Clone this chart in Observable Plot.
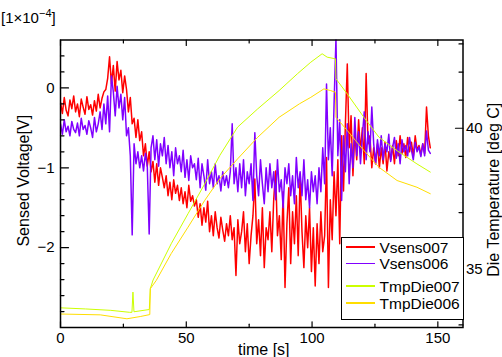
<!DOCTYPE html>
<html><head><meta charset="utf-8">
<script src="https://cdn.jsdelivr.net/npm/d3@7"></script>
<script src="https://cdn.jsdelivr.net/npm/@observablehq/plot@0.6"></script>
<style>
html,body{margin:0;padding:0;background:#fff;}
#wrap{position:relative;width:502px;height:357px;font-family:"Liberation Sans",Arial,sans-serif;color:#000;}
#scale{position:absolute;left:1px;top:10px;font-size:15px;line-height:16px;white-space:nowrap;}
#scale .sup{position:relative;top:-6px;font-size:11px;}
#legend{position:absolute;left:341px;top:237px;width:123px;height:83px;border:1.5px solid #000;background:#fff;box-sizing:border-box;}
.lline{position:absolute;left:3.5px;width:29px;height:1.5px;}
.ltext{position:absolute;left:37.5px;font-size:15.5px;line-height:18px;white-space:nowrap;}
</style></head><body><div id="wrap"></div>
<script>
// ---------- data ----------
const vsensTimeStep = 0.75; // seconds between samples
// Vsens007 [x1e-4 V]
const vsens007 = [
 -0.18,-0.32,-0.12,-0.28,-0.35,-0.15,-0.26,-0.10,
 -0.30,-0.20,-0.36,-0.14,-0.24,-0.33,-0.11,-0.27,
 -0.21,-0.34,-0.16,-0.29,-0.08,-0.25,-0.13,-0.05,
 -0.02,0.12,0.39,0.05,0.28,-0.04,0.33,0.10,
 0.22,-0.06,0.15,-0.02,-0.30,-0.12,-0.45,-0.38,
 -0.62,-0.40,-0.66,-0.55,-0.85,-0.70,-0.98,-0.80,
 -1.05,-0.92,-1.18,-0.95,-1.22,-1.00,-1.12,-1.25,
 -1.10,-1.35,-1.18,-1.40,-1.15,-1.32,-1.22,-1.41,
 -1.25,-1.45,-1.30,-1.50,-1.22,-1.42,-1.35,-1.48,
 -1.40,-1.62,-1.45,-1.72,-1.50,-1.68,-1.42,-1.80,
 -1.60,-1.85,-1.55,-1.75,-1.88,-1.62,-1.78,-1.92,
 -1.70,-1.85,-1.60,-1.90,-1.75,-2.35,-1.65,-1.95,
 -1.80,-1.55,-2.05,-1.70,-2.20,-1.85,-1.60,-1.14,
 -1.95,-1.65,-2.10,-1.50,-2.25,-1.75,-1.90,-1.55,
 -2.05,-1.40,-1.04,-1.85,-1.60,-2.15,-1.30,-2.50,
 -1.70,-1.25,-2.20,-1.55,-1.95,-1.35,-2.10,-1.08,
 -1.80,-2.25,-1.60,-2.00,-1.50,-2.30,-1.75,-2.48,
 -1.70,-2.20,-1.55,-2.05,-1.85,-0.87,-2.50,-1.40,
 -1.90,-1.05,-1.60,-0.90,-1.95,-0.60,-1.29,-0.45,
 0.30,-0.75,-0.35,-1.10,-0.55,-0.90,-0.40,-0.80,
 -0.50,-0.95,0.18,-0.70,-0.60,-1.00,-0.75,-0.95,
 -0.70,-1.00,-0.75,-0.95,-0.68,-1.04,-0.80,-0.90,
 -0.72,-0.95,-0.66,-0.85,-0.60,-0.82,-0.70,-0.87,
 -0.62,-0.80,-0.68,-0.86,-0.60,-0.78,-0.72,-0.84,
 -0.70,-0.82,-0.24,-0.60,-0.75
];
// Vsens006 [x1e-4 V]
const vsens006 = [
 -0.45,-0.58,-0.40,-0.55,-0.48,-0.60,-0.42,-0.52,
 -0.56,-0.44,-0.60,-0.38,-0.52,-0.47,-0.58,-0.41,
 -0.50,-0.62,-0.37,-0.55,-0.45,-0.30,-0.52,-0.20,
 -0.45,-0.10,-0.55,0.15,-0.05,-0.35,0.02,-0.25,
 -0.08,-0.40,-0.12,-0.60,-0.50,-0.85,-1.84,-0.70,
 -0.95,-0.80,-1.00,-0.85,-1.04,-0.82,-0.98,-1.83,
 -0.75,-0.60,-0.90,-0.65,-0.98,-0.70,-0.85,-0.62,
 -0.95,-0.72,-1.00,-0.80,-1.10,-0.75,-0.95,-0.85,
 -1.05,-0.78,-1.12,-0.90,-1.16,-0.85,-1.00,-0.95,
 -1.15,-0.88,-1.25,-0.95,-1.10,-1.28,-0.90,-1.20,
 -1.05,-1.25,-0.95,-1.20,-1.10,-1.29,-1.05,-1.22,
 -1.10,-1.25,-1.05,-0.45,-1.20,-1.00,-1.30,-0.95,
 -1.25,-0.90,-1.35,-1.05,-1.20,-0.95,-1.41,-0.56,
 -1.10,-1.35,-0.90,-1.20,-1.45,-1.00,-1.30,-0.95,
 -1.25,-1.05,-1.40,-0.90,-1.30,-1.15,-1.50,-1.00,
 -1.20,-0.95,-1.35,-1.10,-1.45,-0.87,-1.25,-1.05,
 -1.35,-0.90,-1.40,-1.15,-1.50,-1.05,-1.30,-1.10,
 -1.45,-1.00,-1.30,-0.75,-1.20,0.05,-0.90,-0.50,
 -1.10,-0.20,0.62,-0.85,-0.40,-1.41,-0.60,-1.05,
 -0.45,-1.20,-0.70,-1.00,-0.37,-0.85,-0.55,-0.95,
 -0.60,-0.30,-0.90,-0.55,-0.80,-0.24,-0.70,-0.95,
 -0.65,-0.85,-0.60,-0.90,-0.70,-0.80,-0.58,-0.92,
 -0.75,-0.62,-0.88,-0.70,-0.95,-0.65,-0.80,-0.72,
 -0.85,-0.62,-0.78,-0.90,-0.68,-0.80,-0.74,-0.86,
 -0.70,-0.85,-0.54,-0.78,-0.82
];
// Die temperatures [deg C]
const tmpDie007Time = [0,10,20,27.5,28.4,28.8,29.2,30,35.3,35.7,36.8,44,50.7,57.2,63.3,70.4,78.4,86.9,94.2,99.5,104,106,109.3,109.5,114,120.6,126.6,133.8,141.7,147];
const tmpDie007 =     [33.61,33.57,33.52,33.45,33.45,34.17,33.47,33.48,33.55,34.29,34.6,35.89,36.96,38.0,39.03,40.04,40.69,41.34,41.94,42.35,42.65,42.53,42.47,41.76,41.22,40.39,39.68,39.2,38.73,38.44];
const tmpDie006Time = [0,15.8,26.4,31.7,35.5,35.7,38.1,44,50.7,57.3,63.3,70.4,78.4,86.9,95,99.5,104.7,107.4,109.3,109.5,114,117.3,120.6,126.6,133.8,141.7,147];
const tmpDie006 =     [33.39,33.36,33.22,33.30,33.37,34.29,34.59,35.54,36.48,37.43,38.2,38.91,39.68,40.39,40.87,41.10,41.40,41.34,41.28,40.39,39.92,39.56,39.21,38.61,38.14,37.9,37.67];

const seriesNames  = ["Vsens007","Vsens006","TmpDie007","TmpDie006"];
const seriesColors = ["#ff0000","#8000ff","#ccff00","#ffdd00"];

const xDomain = [0, 160];
const yLeftDomain = [-3, 0.6];
const yRightDomain = [32.91, 43.14];
const xMajorTicks = [0, 50, 100, 150];
const xMinorTicks = [25, 75, 125];
const yLeftMajorTicks = [-2, -1, 0];
const yLeftMinorTicks = [-2.8,-2.6,-2.4,-2.2,-1.8,-1.6,-1.4,-1.2,-0.8,-0.6,-0.4,-0.2,0.2,0.4];
const yRightMajorTicks = [35, 40];
const yRightMinorTicks = [33,34,36,37,38,39,41,42,43];
const xLabel = "time [s]";
const yLeftLabel = "Sensed Voltage[V]";
const yRightLabel = "Die Temperature [deg C]";

// ---------- build ----------
const tempToV = d3.scaleLinear(yRightDomain, yLeftDomain);
const volt = (arr, name) => arr.map((v, i) => ({t: i * vsensTimeStep, v, name}));
const temp = (ts, arr, name) => arr.map((T, i) => ({t: ts[i], v: tempToV(T), name}));
const r007 = volt(vsens007, seriesNames[0]);
const r006 = volt(vsens006, seriesNames[1]);
const t007 = temp(tmpDie007Time, tmpDie007, seriesNames[2]);
const t006 = temp(tmpDie006Time, tmpDie006, seriesNames[3]);

const tickShape = {draw(ctx, l) { ctx.moveTo(0, 0); ctx.lineTo(0, -l); }};
const ticks = (data, ch, frameAnchor, rotate, length) =>
  Plot.vector(data, {[ch]: d => d, frameAnchor, rotate, length, anchor: "start", shape: tickShape, stroke: "black", strokeWidth: 1.2});
const minus = d => d < 0 ? "\u2212" + (-d) : String(d);

const chart = Plot.plot({
  width: 502, height: 357,
  marginLeft: 60, marginRight: 39.5, marginTop: 39.5, marginBottom: 30,
  style: {fontFamily: "'Liberation Sans', Arial, sans-serif", fontSize: "15px", background: "white", color: "black"},
  x: {domain: xDomain},
  y: {domain: yLeftDomain},
  marks: [
    Plot.line(r007, {x: "t", y: "v", stroke: seriesColors[0], strokeWidth: 1.5, clip: true}),
    Plot.line(r006, {x: "t", y: "v", stroke: seriesColors[1], strokeWidth: 1.5, clip: true}),
    Plot.line(t007, {x: "t", y: "v", stroke: seriesColors[2], strokeWidth: 1, clip: true}),
    Plot.line(t006, {x: "t", y: "v", stroke: seriesColors[3], strokeWidth: 1, clip: true}),
    ticks(yLeftMajorTicks, "y", "left", 90, 8),
    ticks(yLeftMinorTicks, "y", "left", 90, 3.5),
    ticks(yRightMajorTicks.map(tempToV), "y", "right", -90, 7.5),
    ticks(yRightMinorTicks.map(tempToV), "y", "right", -90, 4),
    ticks(xMajorTicks, "x", "bottom", 0, 5.7),
    ticks(xMinorTicks, "x", "bottom", 0, 3.3),
    ticks(xMajorTicks, "x", "top", 180, 5.5),
    ticks(xMinorTicks, "x", "top", 180, 3),
    Plot.axisX({anchor: "bottom", ticks: xMajorTicks, tickSize: 0, tickPadding: 5, label: null, fontSize: 15}),
    Plot.axisY({anchor: "left", ticks: yLeftMajorTicks, tickSize: 0, tickPadding: 6, tickFormat: minus, label: null, fontSize: 15}),
    Plot.axisY({anchor: "right", ticks: yRightMajorTicks.map(tempToV), tickSize: 0, tickPadding: 3,
      tickFormat: v => String(Math.round(tempToV.invert(v))), label: null, fontSize: 15}),
    Plot.frame({stroke: "black", strokeWidth: 1.5}),
    Plot.text([yLeftLabel], {text: d => d, frameAnchor: "left", textAnchor: "middle", lineAnchor: "middle", dx: -37, dy: -3, rotate: -90, fontSize: 16}),
    Plot.text([yRightLabel], {text: d => d, frameAnchor: "right", textAnchor: "middle", lineAnchor: "middle", dx: 31, dy: 6, rotate: -90, fontSize: 16}),
    Plot.text([xLabel], {text: d => d, frameAnchor: "bottom", textAnchor: "middle", lineAnchor: "middle", dx: 2, dy: 22.5, fontSize: 16})
  ]
});
const wrap = document.getElementById("wrap");
wrap.appendChild(chart);

const scale = document.createElement("div");
scale.id = "scale";
scale.innerHTML = "[1\u00d710<span class='sup'>\u22124</span>]";
wrap.appendChild(scale);

const legend = document.createElement("div");
legend.id = "legend";
const legendY = [9, 25.5, 48, 65];
seriesNames.forEach((name, i) => {
  const ln = document.createElement("div");
  ln.className = "lline";
  ln.style.top = (legendY[i] - 0.75) + "px";
  ln.style.background = seriesColors[i];
  legend.appendChild(ln);
  const tx = document.createElement("div");
  tx.className = "ltext";
  tx.style.top = (legendY[i] - 8.5) + "px";
  tx.textContent = name;
  legend.appendChild(tx);
});
wrap.appendChild(legend);
</script></body></html>
